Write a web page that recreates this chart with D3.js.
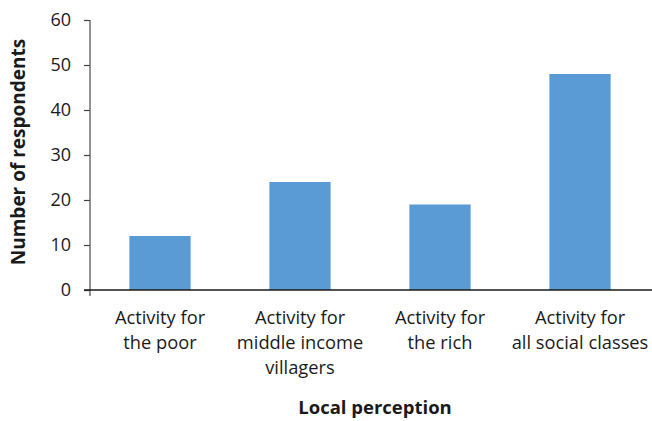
<!DOCTYPE html>
<html>
<head>
<meta charset="utf-8">
<script src="https://cdn.jsdelivr.net/npm/d3@7"></script>
<style>
  html, body { margin: 0; padding: 0; background: #fff; }
  svg { display: block; font-family: "Open Sans", "Noto Sans", sans-serif; }
</style>
</head>
<body>
<svg id="chart" width="652" height="421"></svg>
<script>
// Categories (each split into display lines) and respondent counts
const categories = [
  ["Activity for", "the poor"],
  ["Activity for", "middle income", "villagers"],
  ["Activity for", "the rich"],
  ["Activity for", "all social classes"]
];
const respondents = [12, 24, 19, 48];
const yTicks = [0, 10, 20, 30, 40, 50, 60];

const svg = d3.select("#chart");
const plotLeft = 90, plotRight = 650, plotTop = 20, plotBottom = 290;

const x = d3.scaleBand()
  .domain(categories.map((d, i) => i))
  .range([plotLeft, plotRight])
  .paddingInner(0.5625)
  .paddingOuter(0.28125);

const y = d3.scaleLinear().domain([0, 60]).range([plotBottom, plotTop]);

// Bars
svg.append("g").selectAll("rect")
  .data(respondents)
  .join("rect")
  .attr("x", (d, i) => x(i))
  .attr("y", d => y(d))
  .attr("width", x.bandwidth())
  .attr("height", d => y(0) - y(d))
  .attr("fill", "#5B9BD5");

// Y axis
const yAxis = svg.append("g")
  .attr("transform", `translate(${plotLeft},0)`)
  .call(d3.axisLeft(y).tickValues(yTicks).tickSize(6).tickPadding(13).tickFormat(d3.format("d")));
yAxis.select(".domain").remove();
yAxis.append("line")
  .attr("x1", 0).attr("x2", 0)
  .attr("y1", plotTop).attr("y2", plotBottom + 6)
  .attr("stroke", "#595959").attr("stroke-width", 1.3);
yAxis.selectAll(".tick line").attr("stroke", "#404040").attr("stroke-width", 1.2);
yAxis.selectAll(".tick text")
  .attr("fill", "#1a1a1a")
  .style("font-size", "18px")
  .style("font-family", "'Open Sans', sans-serif");

// X baseline
svg.append("line")
  .attr("x1", plotLeft - 6).attr("x2", 652)
  .attr("y1", y(0)).attr("y2", y(0))
  .attr("stroke", "#1a1a1a").attr("stroke-width", 1.3);

// Category labels, one text element per line
const catG = svg.append("g");
categories.forEach((lines, i) => {
  catG.selectAll(null)
    .data(lines)
    .join("text")
    .attr("x", x(i) + x.bandwidth() / 2)
    .attr("y", (d, j) => 324 + j * 25)
    .attr("text-anchor", "middle")
    .attr("fill", "#1a1a1a")
    .style("font-size", "18.3px")
    .text(d => d);
});

// Axis titles
svg.append("text")
  .attr("x", 375).attr("y", 414)
  .attr("text-anchor", "middle")
  .attr("fill", "#1a1a1a")
  .style("font-size", "18.5px")
  .style("font-weight", "bold")
  .text("Local perception");

svg.append("text")
  .attr("transform", "translate(25,152) rotate(-90)")
  .attr("text-anchor", "middle")
  .attr("fill", "#1a1a1a")
  .style("font-size", "19px")
  .style("font-weight", "bold")
  .text("Number of respondents");
</script>
</body>
</html>
